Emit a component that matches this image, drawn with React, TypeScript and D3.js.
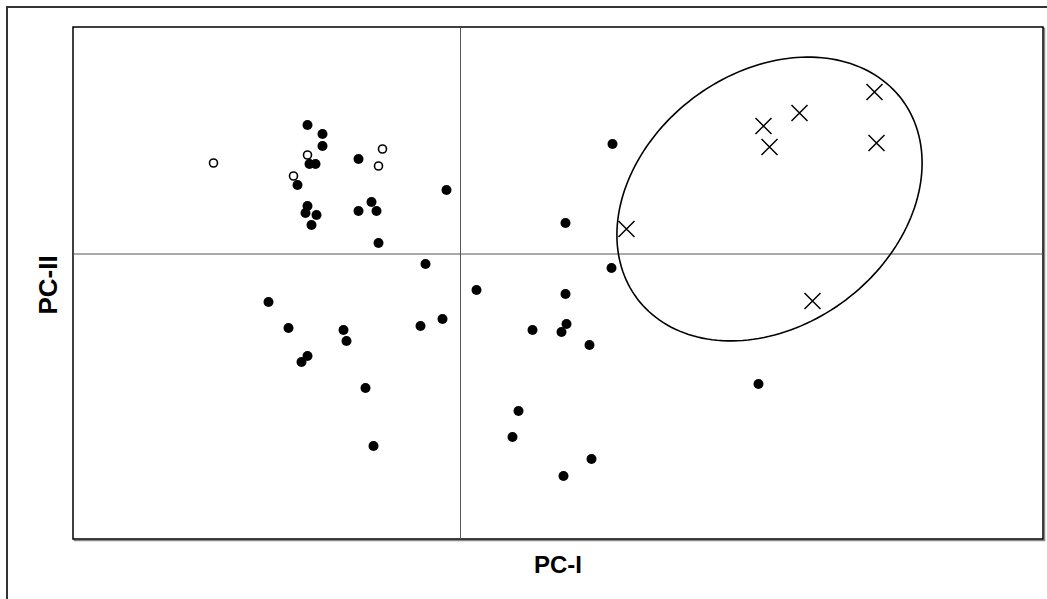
import React from "react";
import * as d3 from "d3";

// Data (PC-I, PC-II scores)
const groupFilled: [number, number][] = [
  [-1.53, 1.29], [-1.38, 1.2], [-1.38, 1.08], [-1.51, 0.9], [-1.45, 0.9],
  [-1.02, 0.95], [-1.63, 0.69], [-0.14, 0.64], [-1.53, 0.48], [-1.55, 0.41],
  [-1.44, 0.39], [-1.49, 0.29], [-1.02, 0.43], [-0.89, 0.52], [-0.84, 0.43],
  [-0.82, 0.11], [-0.35, -0.1], [-1.92, -0.48], [-1.72, -0.74], [-1.17, -0.76],
  [-1.14, -0.87], [-1.53, -1.02], [-1.59, -1.08], [-0.4, -0.72], [-0.18, -0.65],
  [-0.95, -1.34], [-0.87, -1.92], [0.16, -0.36], [1.52, 1.1], [1.05, 0.31],
  [1.51, -0.14], [1.05, -0.4], [0.72, -0.76], [1.06, -0.7], [1.01, -0.78],
  [1.29, -0.91], [0.58, -1.57], [0.52, -1.83], [1.31, -2.05], [1.03, -2.22],
  [2.98, -1.3],
];
const groupOpen: [number, number][] = [
  [-2.47, 0.91], [-1.53, 0.99], [-0.78, 1.05], [-0.82, 0.88], [-1.67, 0.78],
];
const groupCross: [number, number][] = [
  [1.66, 0.25], [3.03, 1.28], [3.09, 1.07], [3.39, 1.41], [4.14, 1.62],
  [4.16, 1.11], [3.52, -0.47],
];
// Confidence ellipse: centre, semi-axes, rotation (degrees)
const ellipseCenter: [number, number] = [3.09, 0.55];
const ellipseAxes: [number, number] = [1.656, 1.265];
const ellipseAngle = 37;

const xDomain: [number, number] = [-3.875, 5.825];
const yDomain: [number, number] = [-2.85, 2.27];
const xLabel = "PC-I";
const yLabel = "PC-II";

export default function App() {
  const W = 1047, H = 599;
  const left = 73, right = 1043, top = 27, bottom = 539;
  const x = d3.scaleLinear().domain(xDomain).range([left, right]);
  const y = d3.scaleLinear().domain(yDomain).range([bottom, top]);

  const th = (ellipseAngle * Math.PI) / 180;
  const angles = d3.range(0, 361, 2).map((d) => (d * Math.PI) / 180);
  const ellPts: [number, number][] = angles.map((t) => {
    const ex = ellipseAxes[0] * Math.cos(t);
    const ey = ellipseAxes[1] * Math.sin(t);
    return [
      ellipseCenter[0] + ex * Math.cos(th) - ey * Math.sin(th),
      ellipseCenter[1] + ex * Math.sin(th) + ey * Math.cos(th),
    ];
  });
  const line = d3
    .line<[number, number]>()
    .x((d) => x(d[0]))
    .y((d) => y(d[1]))
    .curve(d3.curveLinearClosed);

  const font = "'Liberation Sans', Arial, sans-serif";
  const xs = 8;

  return (
    <svg
      width={W}
      height={H}
      style={{ position: "absolute", left: 0, top: 0, background: "#fff" }}
    >
      {/* outer frame */}
      <path d={`M7,${H + 10}V7H${W + 10}`} fill="none" stroke="#333" strokeWidth={2} />
      {/* plot box shadow */}
      <rect x={left + 1.5} y={top + 1.5} width={right - left} height={bottom - top} fill="none" stroke="#888" strokeWidth={1.5} />
      <rect x={left} y={top} width={right - left} height={bottom - top} fill="#fff" stroke="#000" strokeWidth={1.5} />
      {/* zero lines */}
      <line x1={x(0)} x2={x(0)} y1={top} y2={bottom} stroke="#555" strokeWidth={1} />
      <line x1={left} x2={right} y1={y(0)} y2={y(0)} stroke="#555" strokeWidth={1} />
      {/* ellipse */}
      <path d={line(ellPts) || ""} fill="none" stroke="#000" strokeWidth={1.6} />
      {groupFilled.map((d, i) => (
        <circle key={"f" + i} cx={x(d[0])} cy={y(d[1])} r={5} fill="#000" />
      ))}
      {groupOpen.map((d, i) => (
        <circle key={"o" + i} cx={x(d[0])} cy={y(d[1])} r={4} fill="#fff" stroke="#000" strokeWidth={1.6} />
      ))}
      {groupCross.map((d, i) => (
        <path
          key={"x" + i}
          d={`M${x(d[0]) - xs},${y(d[1]) - xs}L${x(d[0]) + xs},${y(d[1]) + xs}M${x(d[0]) - xs},${y(d[1]) + xs}L${x(d[0]) + xs},${y(d[1]) - xs}`}
          stroke="#000"
          strokeWidth={1.5}
          fill="none"
        />
      ))}
      <text x={(left + right) / 2} y={573} textAnchor="middle" fontFamily={font} fontWeight="bold" fontSize={24}>
        {xLabel}
      </text>
      <text
        transform={`translate(57,${(top + bottom) / 2 + 2}) rotate(-90)`}
        textAnchor="middle"
        fontFamily={font}
        fontWeight="bold"
        fontSize={26}
      >
        {yLabel}
      </text>
    </svg>
  );
}
